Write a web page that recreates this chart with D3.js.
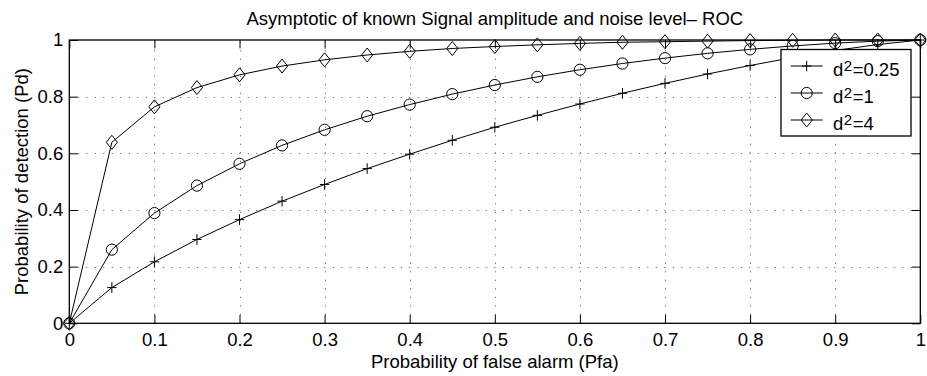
<!DOCTYPE html>
<html>
<head>
<meta charset="utf-8">
<script src="https://cdn.jsdelivr.net/npm/d3@7"></script>
<style>
  body { margin: 0; background: #fff; }
  text { font-family: "Liberation Sans", Arial, Helvetica, sans-serif; fill: #000; }
</style>
</head>
<body>
<div id="chart"></div>
<script>
// values
const pfa = [0, 0.05, 0.1, 0.15, 0.2, 0.25, 0.3, 0.35, 0.4, 0.45, 0.5,
    0.55, 0.6, 0.65, 0.7, 0.75, 0.8, 0.85, 0.9, 0.95, 1];
const pdQuarter = [0, 0.126, 0.217, 0.296, 0.366, 0.431, 0.490, 0.546, 0.597, 0.646, 0.692,
    0.734, 0.774, 0.812, 0.847, 0.880, 0.910, 0.938, 0.963, 0.984, 1];
const pdOne = [0, 0.260, 0.389, 0.486, 0.563, 0.628, 0.683, 0.731, 0.772, 0.809, 0.841,
    0.870, 0.895, 0.917, 0.936, 0.953, 0.967, 0.979, 0.989, 0.996, 1];
const pdFour = [0, 0.639, 0.764, 0.832, 0.877, 0.908, 0.930, 0.947, 0.960, 0.970, 0.977,
    0.983, 0.988, 0.992, 0.994, 0.996, 0.998, 0.999, 1, 1, 1];

const seriesNames = ["0.25", "1", "4"];
const seriesMarkers = ["plus", "circle", "diamond"];

const xTicks = [0, 0.1, 0.2, 0.3, 0.4, 0.5, 0.6, 0.7, 0.8, 0.9, 1];
const xTickLabels = ["0", "0.1", "0.2", "0.3", "0.4", "0.5", "0.6", "0.7", "0.8", "0.9", "1"];
const yTicks = [0, 0.2, 0.4, 0.6, 0.8, 1];
const yTickLabels = ["0", "0.2", "0.4", "0.6", "0.8", "1"];

const titleText = "Asymptotic of known Signal amplitude and noise level\u2013 ROC";
const xLabelText = "Probability of false alarm (Pfa)";
const yLabelText = "Probability of detection (Pd)";

const width = 927;
const height = 376;
const plotLeft = 69.3, plotRight = 920.3, plotTop = 40, plotBottom = 323.3;
const fontSize = 18.5;
const tickLen = 8.5;

const svg = d3.select("#chart")
    .append("svg")
    .attr("width", width)
    .attr("height", height);

const scaleX = d3.scaleLinear().domain([0, 1]).range([plotLeft, plotRight]);
const scaleY = d3.scaleLinear().domain([0, 1]).range([plotBottom, plotTop]);

// grid
const grid = svg.append("g").attr("class", "grid")
    .attr("stroke", "#555")
    .attr("stroke-width", 1)
    .attr("stroke-dasharray", "1,7.5");
grid.selectAll(".gx")
    .data(xTicks.filter(d => d > 0 && d < 1))
    .enter()
    .append("line")
    .attr("x1", d => Math.round(scaleX(d)) + 0.5)
    .attr("x2", d => Math.round(scaleX(d)) + 0.5)
    .attr("y1", plotBottom)
    .attr("y2", plotTop);
grid.selectAll(".gy")
    .data(yTicks.filter(d => d > 0 && d < 1))
    .enter()
    .append("line")
    .attr("x1", plotLeft)
    .attr("x2", plotRight)
    .attr("y1", d => Math.round(scaleY(d)) + 0.5)
    .attr("y2", d => Math.round(scaleY(d)) + 0.5);

// axes with inward ticks on all four sides
function styleAxis(g) {
    g.select(".domain").remove();
    g.selectAll(".tick line").attr("stroke", "#000");
    g.selectAll(".tick text")
        .attr("font-size", fontSize)
        .attr("font-family", null);
}

const xAxis = d3.axisBottom(scaleX)
    .tickValues(xTicks)
    .tickFormat((d, i) => xTickLabels[i])
    .tickSizeInner(-tickLen)
    .tickSizeOuter(0)
    .tickPadding(10);
svg.append("g")
    .attr("transform", `translate(0, ${plotBottom})`)
    .call(xAxis)
    .call(styleAxis);

const yAxis = d3.axisLeft(scaleY)
    .tickValues(yTicks)
    .tickFormat((d, i) => yTickLabels[i])
    .tickSizeInner(-tickLen)
    .tickSizeOuter(0)
    .tickPadding(6);
svg.append("g")
    .attr("transform", `translate(${plotLeft}, 0)`)
    .call(yAxis)
    .call(styleAxis);

svg.append("g")
    .attr("transform", `translate(0, ${plotTop})`)
    .call(d3.axisTop(scaleX).tickValues(xTicks).tickFormat("").tickSizeInner(-tickLen).tickSizeOuter(0))
    .call(styleAxis);
svg.append("g")
    .attr("transform", `translate(${plotRight}, 0)`)
    .call(d3.axisRight(scaleY).tickValues(yTicks).tickFormat("").tickSizeInner(-tickLen).tickSizeOuter(0))
    .call(styleAxis);

// markers
function markerPath(type, x, y) {
    if (type === "plus") {
        return `M${x - 4.7},${y}H${x + 4.7}M${x},${y - 5.3}V${y + 5.3}`;
    }
    if (type === "circle") {
        const r = 5.6;
        return `M${x - r},${y}a${r},${r} 0 1,0 ${2 * r},0a${r},${r} 0 1,0 ${-2 * r},0Z`;
    }
    return `M${x},${y - 7}L${x + 5.6},${y}L${x},${y + 7}L${x - 5.6},${y}Z`;
}

const series = [pdQuarter, pdOne, pdFour];
const line = d3.line()
    .x(d => scaleX(d[0]))
    .y(d => scaleY(d[1]));

const plot = svg.append("g").attr("class", "plot");
series.forEach((values, k) => {
    const points = pfa.map((p, i) => [p, values[i]]);
    plot.append("path")
        .datum(points)
        .attr("d", line)
        .attr("fill", "none")
        .attr("stroke", "#000")
        .attr("stroke-width", 1);
    plot.selectAll(".m" + k)
        .data(points)
        .enter()
        .append("path")
        .attr("d", d => markerPath(seriesMarkers[k], scaleX(d[0]), scaleY(d[1])))
        .attr("fill", "none")
        .attr("stroke", "#000")
        .attr("stroke-width", 1);
});

// box
svg.append("rect")
    .attr("x", plotLeft)
    .attr("y", plotTop)
    .attr("width", plotRight - plotLeft)
    .attr("height", plotBottom - plotTop)
    .attr("fill", "none")
    .attr("stroke", "#000")
    .attr("stroke-width", 1.3);

// titles
svg.append("text")
    .attr("x", (plotLeft + plotRight) / 2)
    .attr("y", 25)
    .attr("text-anchor", "middle")
    .attr("font-size", fontSize)
    .text(titleText);

svg.append("text")
    .attr("x", (plotLeft + plotRight) / 2)
    .attr("y", 367.5)
    .attr("text-anchor", "middle")
    .attr("font-size", fontSize)
    .text(xLabelText);

svg.append("text")
    .attr("transform", `translate(28, ${(plotTop + plotBottom) / 2}) rotate(-90)`)
    .attr("text-anchor", "middle")
    .attr("font-size", fontSize)
    .text(yLabelText);

// legend
const legend = svg.append("g").attr("class", "legend");
legend.append("rect")
    .attr("x", 781)
    .attr("y", 49.5)
    .attr("width", 130)
    .attr("height", 86.5)
    .attr("fill", "#fff")
    .attr("stroke", "#000")
    .attr("stroke-width", 1.3);

seriesNames.forEach((name, i) => {
    const rowY = 66 + i * 27;
    const item = legend.append("g");
    item.append("line")
        .attr("x1", 790.7)
        .attr("x2", 822.7)
        .attr("y1", rowY)
        .attr("y2", rowY)
        .attr("stroke", "#000");
    item.append("path")
        .attr("d", markerPath(seriesMarkers[i], 806.7, rowY))
        .attr("fill", "none")
        .attr("stroke", "#000");
    const label = item.append("text")
        .attr("x", 833)
        .attr("y", rowY + 10)
        .attr("font-size", fontSize);
    label.append("tspan").text("d");
    label.append("tspan")
        .attr("font-size", 15)
        .attr("dx", 0.5)
        .attr("dy", -5)
        .text("2");
    label.append("tspan")
        .attr("dx", 0.5)
        .attr("dy", 5)
        .text("=" + name);
});
</script>
</body>
</html>
